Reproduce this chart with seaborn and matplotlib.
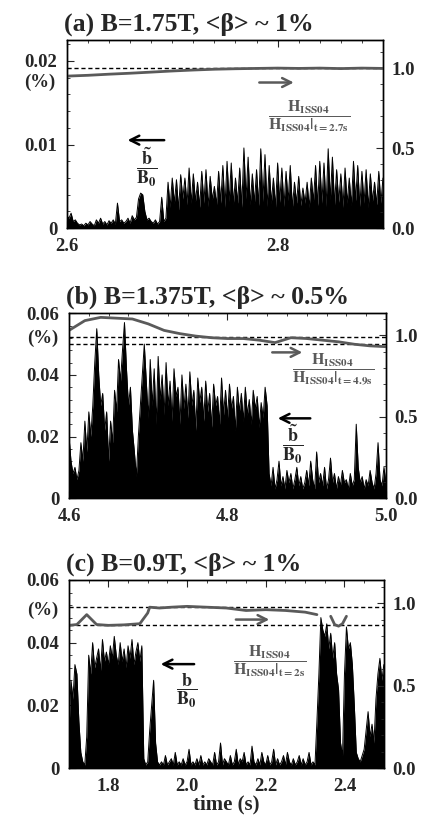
import numpy as np
import matplotlib
matplotlib.use("Agg")
import matplotlib.pyplot as plt
from matplotlib.ticker import MultipleLocator
import seaborn as sns

# ---------------- data ----------------
# b/B0 values are in units of 1e-3 %, sampled on a regular time grid

# (a) B=1.75T : 2.600 .. 2.900 s, 2 ms step
a_range = (2.6, 2.9)
a_b = [1.5, 1.2, 1.8, 0.8, 1.0, 0.6, 0.4, 0.5, 0.3, 0.6, 0.4, 0.8, 0.5, 0.3, 1.0, 0.6, 1.2, 0.5, 0.8, 0.4, 0.9, 0.6, 1.0, 0.5,
       3.0,
       0.8, 1.0, 0.6, 0.8, 1.2, 0.6, 1.5, 1.0, 1.3,
       3.5, 4.2, 4.0, 2.0,
       1.0, 1.2, 0.8, 0.6, 1.0, 0.5, 0.8,
       3.7,
       0.8, 1.2,
       5.5, 2.5, 6.0, 3.0, 5.8, 2.2, 6.4, 3.5, 6.0, 2.8, 7.2, 3.0, 6.5,
       3.2, 5.5, 2.5, 6.8, 3.0, 7.0, 2.6, 6.2, 3.4, 5.0,
       2.8, 6.8, 3.0, 7.5, 2.5, 8.0, 3.2, 7.8, 2.9, 6.0,
       3.0, 7.2, 2.5, 9.6, 3.5, 8.5, 2.8, 6.5, 3.0, 7.0,
       2.7, 9.5, 3.2, 8.8, 2.6, 7.5, 3.0, 6.0, 2.5, 7.8,
       3.1, 7.2, 2.6, 6.8, 3.3, 7.5, 2.4, 5.5, 3.0, 6.2,
       2.7, 4.8, 3.0, 5.5, 2.5, 6.0, 3.2, 7.5, 2.7, 8.0,
       3.0, 7.8, 2.6, 9.5, 3.4, 8.5, 2.8, 7.0, 3.1, 6.5,
       2.5, 7.2, 3.0, 6.0, 2.7, 8.0, 3.3, 7.5, 2.6, 6.8,
       3.0, 7.0, 2.5, 6.5, 3.2, 5.5, 2.8, 6.8, 3.0, 6.0]
a_h_t = [2.60, 2.62, 2.64, 2.66, 2.68, 2.70, 2.72, 2.74, 2.76, 2.78, 2.80, 2.82, 2.84, 2.86, 2.88, 2.90]
a_h = [0.95, 0.955, 0.962, 0.968, 0.975, 0.982, 0.988, 0.993, 0.996, 0.998, 1.0, 0.998, 1.0, 0.997, 1.0, 0.998]
a_dash = [1.0]

# (b) B=1.375T : 4.600 .. 5.000 s, 2.5 ms step
b_range = (4.6, 5.0)
b_b = [20, 12, 8, 10, 6, 9,
       18, 12, 25, 15, 28, 20, 30, 44,
       55,
       40, 30, 34, 22, 28, 12,
       25, 18, 35, 28, 45, 38, 48,
       57,
       42, 30, 36, 22, 15, 7,
       20, 30, 40,
       50,
       38, 26, 45, 30, 42, 24, 46, 32, 40, 27,
       44, 30, 38, 25, 42, 33, 36, 24, 40, 29,
       37, 26, 41, 30, 35, 22, 39, 31, 36, 25,
       38, 28, 34, 23, 37, 30, 33, 24, 39, 27,
       35, 26, 37, 29, 33, 22, 36, 28, 34, 25,
       36, 27, 32, 24, 35, 29, 33, 23, 31, 26, 36, 30,
       8, 4, 10, 3, 6, 12, 4, 7, 3, 9,
       5, 8, 3, 6, 10, 4, 7, 3, 5, 9,
       4, 12, 6, 3, 15, 5, 8, 4, 10, 3,
       6, 13, 5, 8, 3, 7, 4, 9, 5, 6,
       3, 8, 4, 6, 24, 10, 5, 7, 3, 6,
       4, 9, 5, 3, 8, 18, 6, 4, 10, 5]
b_h_t = [4.60, 4.62, 4.64, 4.66, 4.68, 4.70, 4.72, 4.74, 4.76, 4.78, 4.80,
         4.82, 4.84, 4.86, 4.88, 4.90, 4.92, 4.94, 4.96, 4.98, 5.00]
b_h = [1.03, 1.09, 1.11, 1.105, 1.10, 1.07, 1.03, 1.01, 0.995, 0.985, 0.98,
       0.98, 0.97, 0.955, 0.985, 0.98, 0.97, 0.96, 0.945, 0.935, 0.93]
b_dash = [0.99, 0.945]

# (c) B=0.9T : 1.700 .. 2.500 s, 5 ms step
c_range = (1.7, 2.5)
c_b = [12, 28, 22, 33, 30,
       15, 5, 2, 1,
       10,
       36, 30, 40, 32, 35, 38, 31, 41, 34, 37, 33, 39, 35, 42, 36, 33, 40, 34, 38, 32, 39, 35, 41, 33, 37, 40, 34, 39,
       3, 1, 2,
       12, 20, 28,
       8, 2,
       1, 2, 1, 4, 1, 2, 3, 1, 5, 1,
       2, 1, 3, 1, 2, 6, 1, 2, 1, 3,
       1, 4, 1, 2, 1, 3, 2, 1, 5, 1,
       2, 8, 1, 3, 2, 1, 4, 1, 2, 6,
       1, 3, 2, 5, 1, 2, 1, 7, 2, 1,
       3, 1, 5, 2, 1, 4, 1, 2, 6, 1,
       3, 1, 2, 4, 1, 5, 2, 1, 3, 1,
       2, 4, 1, 3, 1, 2, 5, 1, 2, 1,
       15,
       30, 48, 44, 42, 46, 38, 43, 35, 40, 30, 25,
       8, 4,
       30, 45, 38, 40, 33, 20,
       5, 3, 2, 4, 6,
       12, 18, 10, 14,
       8, 22, 30, 35, 28, 33]
c_h_t1 = [1.70, 1.72, 1.745, 1.77, 1.80, 1.84, 1.88, 1.90, 1.905, 1.93, 1.96,
          2.00, 2.05, 2.10, 2.15, 2.20, 2.25, 2.30, 2.33]
c_h1 = [0.865, 0.87, 0.93, 0.87, 0.865, 0.868, 0.875, 0.94, 0.975, 0.97, 0.975,
        0.98, 0.975, 0.97, 0.955, 0.96, 0.955, 0.945, 0.93]
c_h_t2 = [2.365, 2.375, 2.385, 2.395, 2.405]
c_h2 = [0.92, 0.87, 0.86, 0.875, 0.92]
c_dash = [0.975, 0.865]

# ---------------- style ----------------
sns.set_theme(style="ticks")
plt.rcParams["font.family"] = ["Liberation Serif", "DejaVu Serif"]
plt.rcParams["font.weight"] = "bold"
plt.rcParams["mathtext.fontset"] = "stix"
plt.rcParams["mathtext.default"] = "bf"
plt.rcParams["axes.linewidth"] = 1.0
plt.rcParams["axes.edgecolor"] = "black"

GREY = "#5a5a5a"
TICK_FS = 13.5

fig = plt.figure(figsize=(4.26, 8.18), dpi=100)


def panel(rect, title, b, trange, ylim_l, yticks_l, ylim_r, minor_x, majors_x,
          pct_y, dash, h_parts):
    ax = fig.add_axes(rect)
    t = np.linspace(trange[0], trange[1], len(b))
    vals = np.array(b, dtype=float) * 1e-3
    ax.fill_between(t, 0, vals, color="black", linewidth=0)
    sns.lineplot(x=t, y=vals, ax=ax, color="black", linewidth=0.7, estimator=None)
    ax.set_xlim(*trange)
    ax.set_ylim(*ylim_l)
    ax.set_yticks(yticks_l)
    ax.set_yticklabels(["0" if v == 0 else f"{v:.2f}" for v in yticks_l])
    ax.set_xticks(majors_x)
    ax.set_xticklabels([f"{v:.1f}" for v in majors_x])
    ax.xaxis.set_minor_locator(MultipleLocator(minor_x))
    ax.yaxis.set_minor_locator(MultipleLocator(yticks_l[1] / 5))
    ax.tick_params(axis="both", which="both", direction="in", top=True, right=False,
                   labelsize=TICK_FS)
    ax.tick_params(axis="x", pad=7)
    ax.tick_params(axis="y", pad=7)
    ax.tick_params(which="major", length=5, width=0.8)
    ax.tick_params(which="minor", length=2.5, width=0.6)
    ax.set_xlabel("")
    ax.set_ylabel("")
    ax.set_title(title, loc="left", x=-0.01, fontsize=18.5, fontweight="bold", pad=7)
    ax.text(-0.035, pct_y, "(%)", transform=ax.transAxes, ha="right", va="center",
            fontsize=TICK_FS, fontweight="bold")

    ax2 = ax.twinx()
    for d in dash:
        ax2.axhline(d, color="black", linestyle=(0, (3, 2)), linewidth=1.0)
    for ht, hv in h_parts:
        sns.lineplot(x=ht, y=hv, ax=ax2, color=GREY, linewidth=2.0, estimator=None)
    ax2.set_ylim(*ylim_r)
    ax2.set_yticks([0.0, 0.5, 1.0])
    ax2.set_yticklabels(["0.0", "0.5", "1.0"])
    ax2.yaxis.set_minor_locator(MultipleLocator(0.1))
    ax2.tick_params(axis="y", which="both", direction="in", labelsize=TICK_FS, pad=6)
    ax2.tick_params(which="major", length=5, width=0.8)
    ax2.tick_params(which="minor", length=2.5, width=0.6)
    ax2.set_ylabel("")
    for s in ax.spines.values():
        s.set_color("black")
    return ax, ax2


def arrow(ax2, x0, x1, y, color):
    ax2.annotate("", xy=(x1, y), xytext=(x0, y),
                 arrowprops=dict(arrowstyle="->", color=color, lw=1.8, mutation_scale=16))


# (a)
ax, ax2 = panel([0.157, 0.721, 0.742, 0.230], "(a) B=1.75T, <β> ~ 1%",
                a_b, a_range, (0, 0.0225), [0, 0.01, 0.02], (0, 1.175),
                0.02, [2.6, 2.8], 0.777, a_dash, [(a_h_t, a_h)])
arrow(ax2, 2.780, 2.818, 0.91, GREY)
ax2.text(2.83, 0.70, r"$\dfrac{H_{ISS04}}{H_{ISS04}|_{t=2.7s}}$", ha="center", va="center",
         fontsize=11.5, color=GREY)
arrow(ax2, 2.695, 2.655, 0.55, "black")
ax2.text(2.676, 0.38, r"$\dfrac{\tilde{b}}{B_0}$", ha="center", va="center", fontsize=13)

# (b)
ax, ax2 = panel([0.162, 0.391, 0.744, 0.226], "(b) B=1.375T, <β> ~ 0.5%",
                b_b, b_range, (0, 0.058), [0, 0.02, 0.04, 0.06], (0, 1.135),
                0.025, [4.6, 4.8, 5.0], 0.865, b_dash, [(b_h_t, b_h)])
arrow(ax2, 4.853, 4.898, 0.895, GREY)
ax2.text(4.933, 0.79, r"$\dfrac{H_{ISS04}}{H_{ISS04}|_{t=4.9s}}$", ha="center", va="center",
         fontsize=11.5, color=GREY)
arrow(ax2, 4.908, 4.860, 0.49, "black")
ax2.text(4.882, 0.33, r"$\dfrac{\tilde{b}}{B_0}$", ha="center", va="center", fontsize=13)

# (c)
ax, ax2 = panel([0.162, 0.061, 0.739, 0.230], "(c) B=0.9T, <β> ~ 1%",
                c_b, c_range, (0, 0.058), [0, 0.02, 0.04, 0.06], (0, 1.14),
                0.05, [1.8, 2.0, 2.2, 2.4], 0.839, c_dash,
                [(c_h_t1, c_h1), (c_h_t2, c_h2)])
arrow(ax2, 2.117, 2.216, 0.90, GREY)
ax2.text(2.21, 0.65, r"$\dfrac{H_{ISS04}}{H_{ISS04}|_{t=2s}}$", ha="center", va="center",
         fontsize=11.5, color=GREY)
arrow(ax2, 2.025, 1.926, 0.63, "black")
ax2.text(2.0, 0.47, r"$\dfrac{b}{B_0}$", ha="center", va="center", fontsize=13)
ax.set_xlabel("time (s)", fontsize=15, fontweight="bold", labelpad=0)

fig.savefig("out.png", dpi=100)
